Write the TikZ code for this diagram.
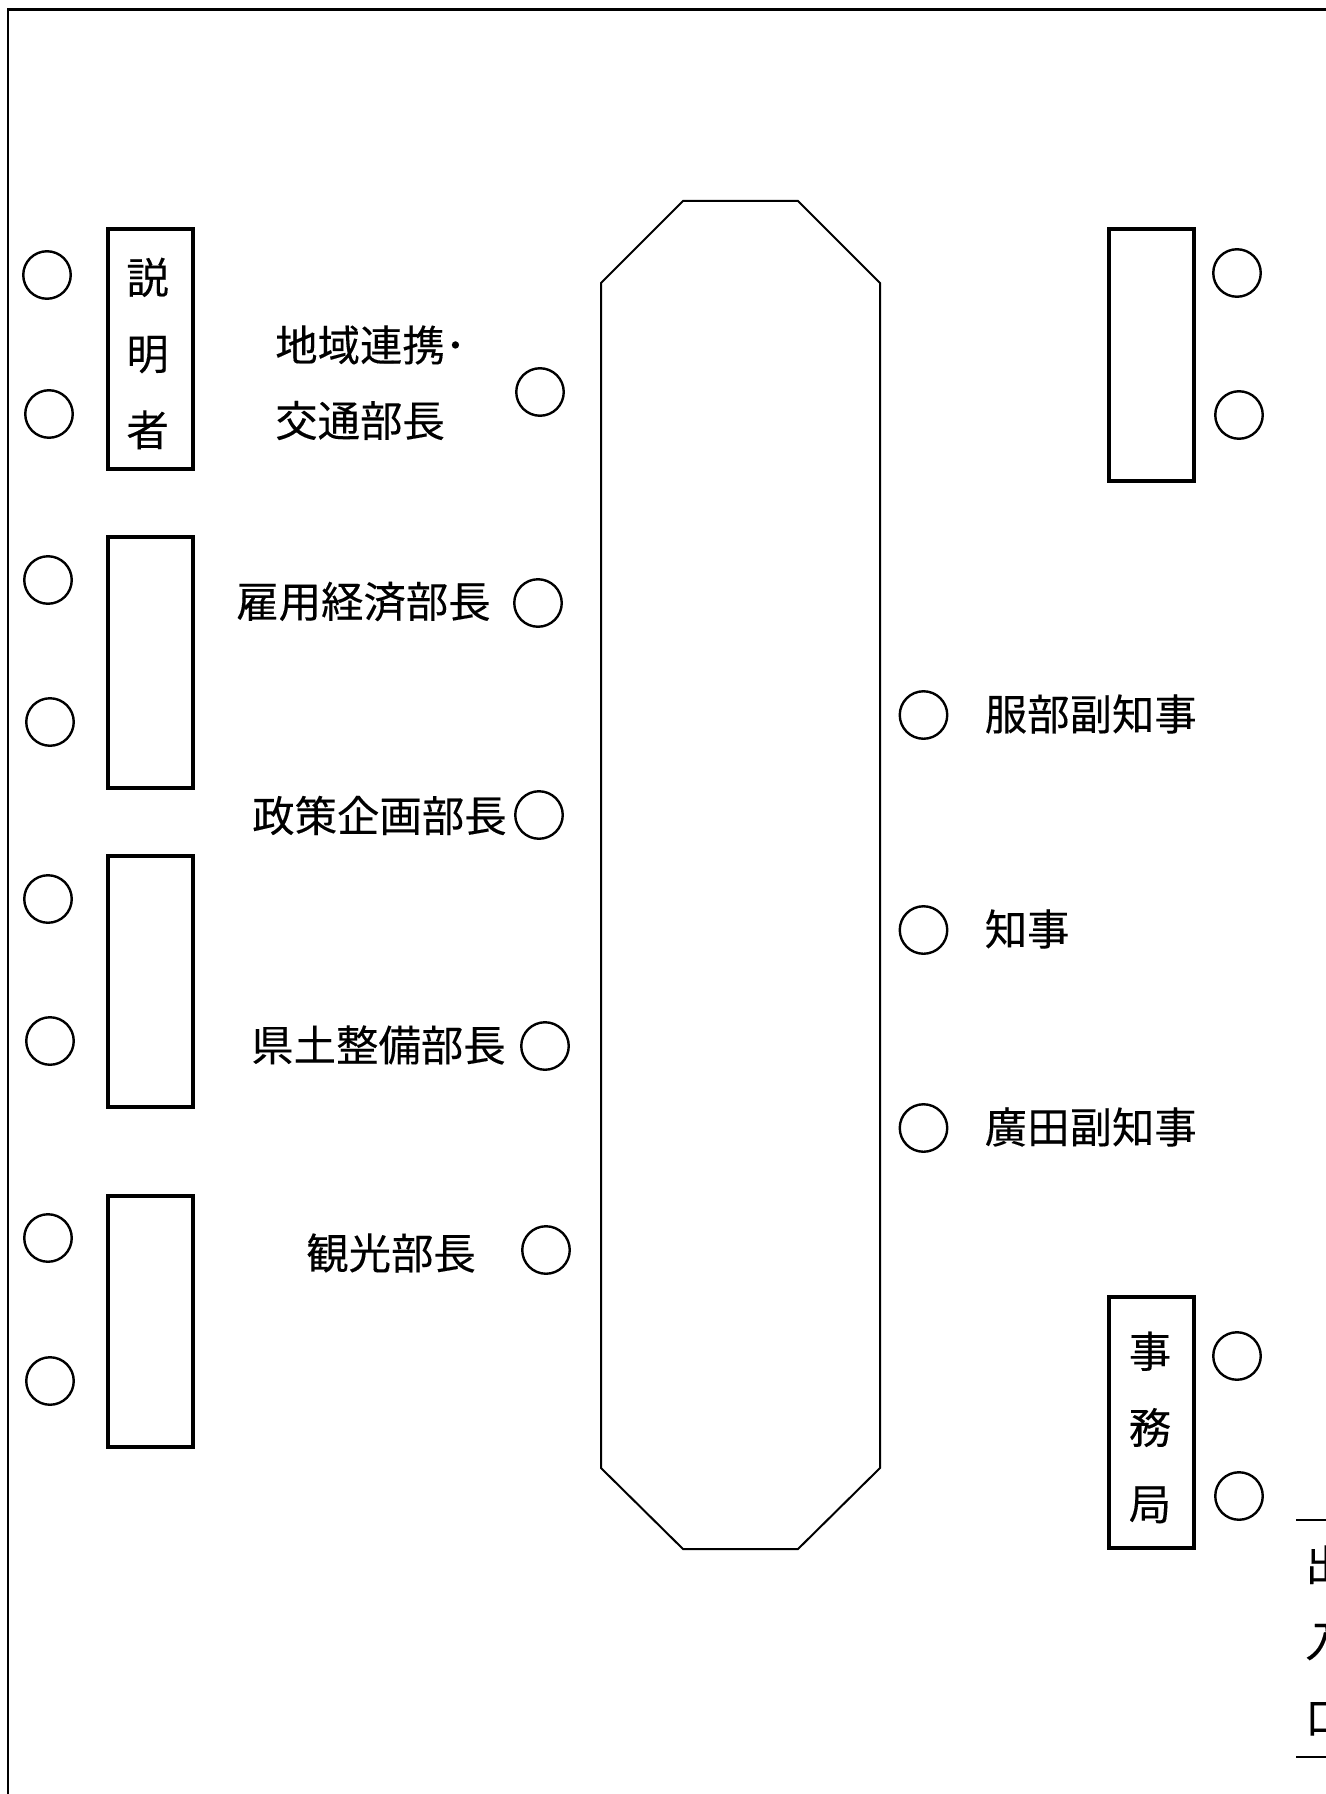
\documentclass[tikz,border=0pt]{standalone}
\usepackage{fontspec}
\setmainfont{Noto Sans CJK JP}[FakeBold=0.2]
\tikzset{
  x=0.75pt,y=-0.75pt,
  seat/.style={circle,draw=black,line width=2.4*0.75pt,minimum size=47.5*0.75pt,inner sep=0pt,outer sep=0pt},
  desk/.style={draw=black,line width=4*0.75pt,fill=none,inner sep=0pt,outer sep=0pt,anchor=north west,minimum width=85*0.75pt,minimum height=251*0.75pt},
  lbl/.style={inner sep=0pt,font=\fontsize{31.8pt}{40pt}\selectfont,text=black,anchor=west},
  vlbl/.style={inner sep=0pt,align=center,font=\fontsize{31.8pt}{57.2pt}\selectfont,text=black},
  rule/.style={draw=black,line width=2*0.75pt},
}
\begin{document}
\begin{tikzpicture}
\useasboundingbox (0,0) rectangle (1325,1794);
\fill[white] (0,0) rectangle (1325,1794);
\draw[rule,line width=2.6*0.75pt] (1330,9.5) -- (8,9.5) -- (8,1800);
% table
\draw[rule] (683,201) -- (798,201) -- (880,283) -- (880,1468) -- (798,1549) -- (683,1549) -- (601,1468) -- (601,283) -- cycle;
% desks
\node[desk,minimum height=239*0.75pt,at={(107.6,229.5)}] (b1) {};
\node[desk,at={(107.6,536.8)}] (b2) {};
\node[desk,at={(107.6,856.3)}] (b3) {};
\node[desk,at={(107.6,1196.3)}] (b4) {};
\node[desk,at={(1108.8,229.5)}] (b5) {};
\node[desk,at={(1108.8,1297.2)}] (b6) {};
% seats
\node[seat] (l1) at (47,275) {};
\node[seat] (l2) at (49,414) {};
\node[seat] (l3) at (48,580) {};
\node[seat] (l4) at (50,722) {};
\node[seat] (l5) at (48,899) {};
\node[seat] (l6) at (50,1041) {};
\node[seat] (l7) at (48,1238) {};
\node[seat] (l8) at (50,1381) {};
\node[seat] (m1) at (540,392) {};
\node[seat] (m2) at (538,603) {};
\node[seat] (m3) at (539,815) {};
\node[seat] (m4) at (545,1046) {};
\node[seat] (m5) at (546,1250) {};
\node[seat] (c1) at (923.5,715) {};
\node[seat] (c2) at (923.5,930) {};
\node[seat] (c3) at (923.5,1128) {};
\node[seat] (r1) at (1237,273) {};
\node[seat] (r2) at (1239,415) {};
\node[seat] (r3) at (1237,1356) {};
\node[seat] (r4) at (1239,1496) {};
% labels
\node[vlbl] (t1) at (147.6,353.5) {説\\明\\者};
\node[vlbl] (t2) at (1150,1427.5) {事\\務\\局};
\node[lbl] (t3) at (275,345) {地域連携･};
\node[lbl] (t4) at (275,420.5) {交通部長};
\node[lbl] (t5) at (236,601.5) {雇用経済部長};
\node[lbl] (t6) at (252,815.5) {政策企画部長};
\node[lbl] (t7) at (251,1045) {県土整備部長};
\node[lbl] (t8) at (306,1253) {観光部長};
\node[lbl] (t9) at (984.5,714) {服部副知事};
\node[lbl] (t10) at (984.5,929) {知事};
\node[lbl] (t11) at (984.5,1127) {廣田副知事};
\node[vlbl,anchor=north west] (t12) at (1305,1545) {出\\入\\口};
% exit rules
\coordinate (e1) at (1296,1520);
\coordinate (e2) at (1330,1520);
\coordinate (e3) at (1296,1757);
\coordinate (e4) at (1330,1757);
\draw[rule] (e1) -- (e2);
\draw[rule] (e3) -- (e4);
\end{tikzpicture}
\end{document}
